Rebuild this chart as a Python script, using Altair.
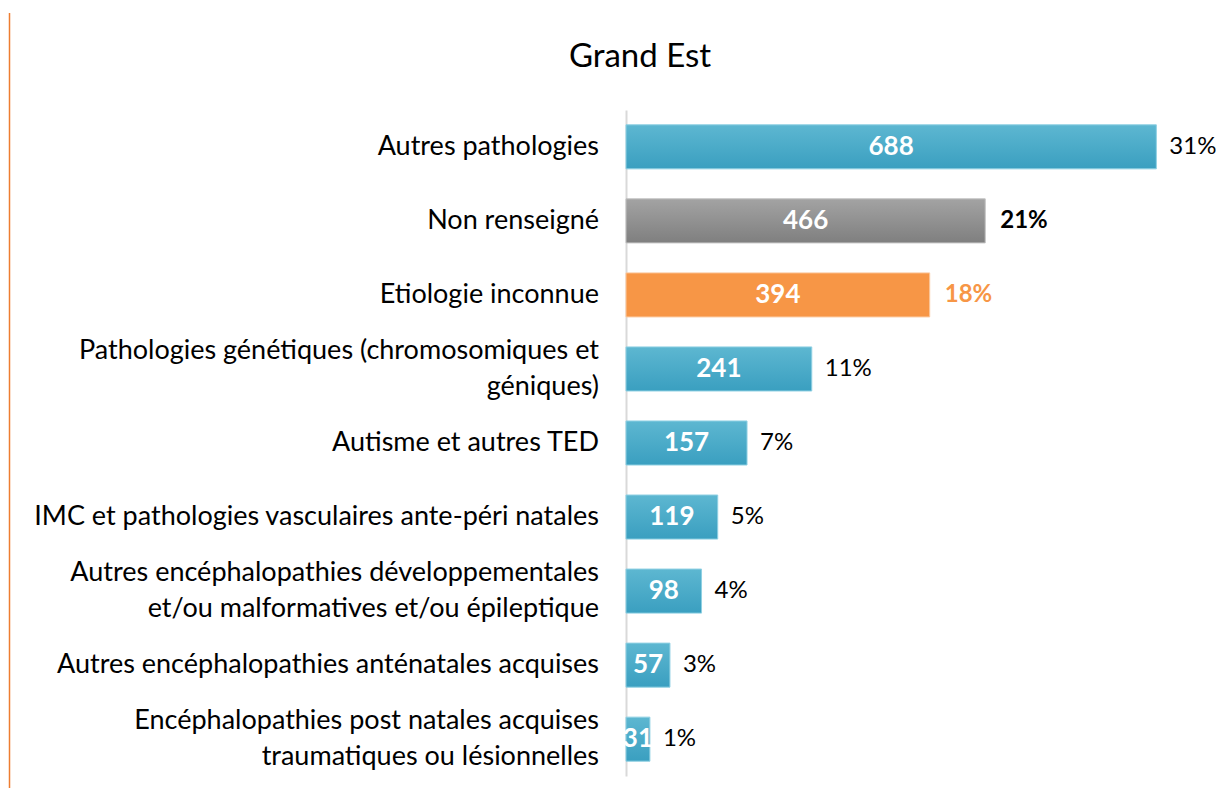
import altair as alt
import pandas as pd

title_text = "Grand Est"
categories = [
    "Autres pathologies",
    "Non renseigné",
    "Etiologie  inconnue",
    "Pathologies génétiques (chromosomiques et\ngéniques)",
    "Autisme et autres TED",
    "IMC et pathologies vasculaires ante-péri natales",
    "Autres encéphalopathies développementales\net/ou malformatives et/ou épileptique",
    "Autres encéphalopathies anténatales acquises",
    "Encéphalopathies  post natales acquises\ntraumatiques ou lésionnelles",
]
values = [688, 466, 394, 241, 157, 119, 98, 57, 31]
pct_labels = ["31%", "21%", "18%", "11%", "7%", "5%", "4%", "3%", "1%"]
groups = ["blue", "gray", "orange", "blue", "blue", "blue", "blue", "blue", "blue"]

df = pd.DataFrame({"cat": categories, "value": values, "pct": pct_labels, "grp": groups})
df_single = pd.DataFrame({"cat": [c for c in categories if "\n" not in c]})
df_multi = pd.DataFrame({"cat": [c for c in categories if "\n" in c]})

FONT = "Lato"

blue_grad = alt.LinearGradient(
    gradient="linear", x1=0, x2=0, y1=0, y2=1,
    stops=[alt.GradientStop(color="#5db7d1", offset=0), alt.GradientStop(color="#3a9fc0", offset=1)],
)
gray_grad = alt.LinearGradient(
    gradient="linear", x1=0, x2=0, y1=0, y2=1,
    stops=[alt.GradientStop(color="#a3a3a3", offset=0), alt.GradientStop(color="#7f7f7f", offset=1)],
)
orange_fill = "#f79646"

y_enc = alt.Y(
    "cat:N", sort=categories, title=None,
    scale=alt.Scale(paddingInner=0.405, paddingOuter=0.2),
    axis=alt.Axis(labels=False, ticks=False, domainColor="#d9d9d9", domainWidth=2),
)
y_plain = alt.Y("cat:N", sort=categories)
x_enc = alt.X("value:Q", scale=alt.Scale(domain=[0, 720], nice=False), axis=None)
x_plain = alt.X("value:Q")

base = alt.Chart(df)

bars_blue = base.transform_filter("datum.grp == 'blue'").mark_bar(
    color=blue_grad, stroke="#8fd0e3", strokeWidth=1).encode(x=x_enc, y=y_enc)
bars_gray = base.transform_filter("datum.grp == 'gray'").mark_bar(
    color=gray_grad, stroke="#c0c0c0", strokeWidth=1).encode(x=x_plain, y=y_plain)
bars_orange = base.transform_filter("datum.grp == 'orange'").mark_bar(
    color=orange_fill, stroke="#fbc9a0", strokeWidth=1).encode(x=x_plain, y=y_plain)

label_props = dict(font=FONT, fontSize=27, color="#000000", align="right", baseline="middle",
                   lineBreak="\n", lineHeight=36)
cat_single = alt.Chart(df_single).mark_text(dx=-27, **label_props).encode(
    x=alt.value(0), y=y_plain, text="cat:N")
cat_multi = alt.Chart(df_multi).mark_text(dx=-27, dy=-18, **label_props).encode(
    x=alt.value(0), y=y_plain, text="cat:N")

inner = base.transform_calculate(mid="datum.value / 2").mark_text(
    font=FONT, fontSize=26, fontWeight="bold", color="white", baseline="middle", align="center"
).encode(x=alt.X("mid:Q"), y=y_plain, text="value:Q")

pct_plain = base.transform_filter("datum.grp == 'blue'").mark_text(
    font=FONT, fontSize=24, color="#000000", align="left", baseline="middle", dx=13
).encode(x=x_plain, y=y_plain, text="pct:N")
pct_gray = base.transform_filter("datum.grp == 'gray'").mark_text(
    font=FONT, fontSize=24, fontWeight="bold", color="#000000", align="left", baseline="middle", dx=15
).encode(x=x_plain, y=y_plain, text="pct:N")
pct_orange = base.transform_filter("datum.grp == 'orange'").mark_text(
    font=FONT, fontSize=24, fontWeight="bold", color="#f79646", align="left", baseline="middle", dx=15
).encode(x=x_plain, y=y_plain, text="pct:N")

title_mark = alt.Chart(pd.DataFrame({"t": [title_text]})).mark_text(
    font=FONT, fontSize=33, color="#000000", align="center", baseline="middle"
).encode(x=alt.value(14), y=alt.value(-53), text="t:N")

border = alt.Chart(pd.DataFrame({"a": [0]})).mark_rule(color="#ED7D31", strokeWidth=1.5).encode(
    x=alt.value(-616.5), y=alt.value(-97), y2=alt.value(700)
)

chart = alt.layer(
    border, bars_blue, bars_gray, bars_orange, cat_single, cat_multi, inner,
    pct_plain, pct_gray, pct_orange, title_mark
).properties(
    width=555, height=666,
    autosize=alt.AutoSizeParams(type="none"),
    padding={"left": 618, "top": 102, "right": 35, "bottom": 12},
).configure_view(strokeWidth=0)

chart.save("out.html", embed_options={"renderer": "svg", "actions": False})
